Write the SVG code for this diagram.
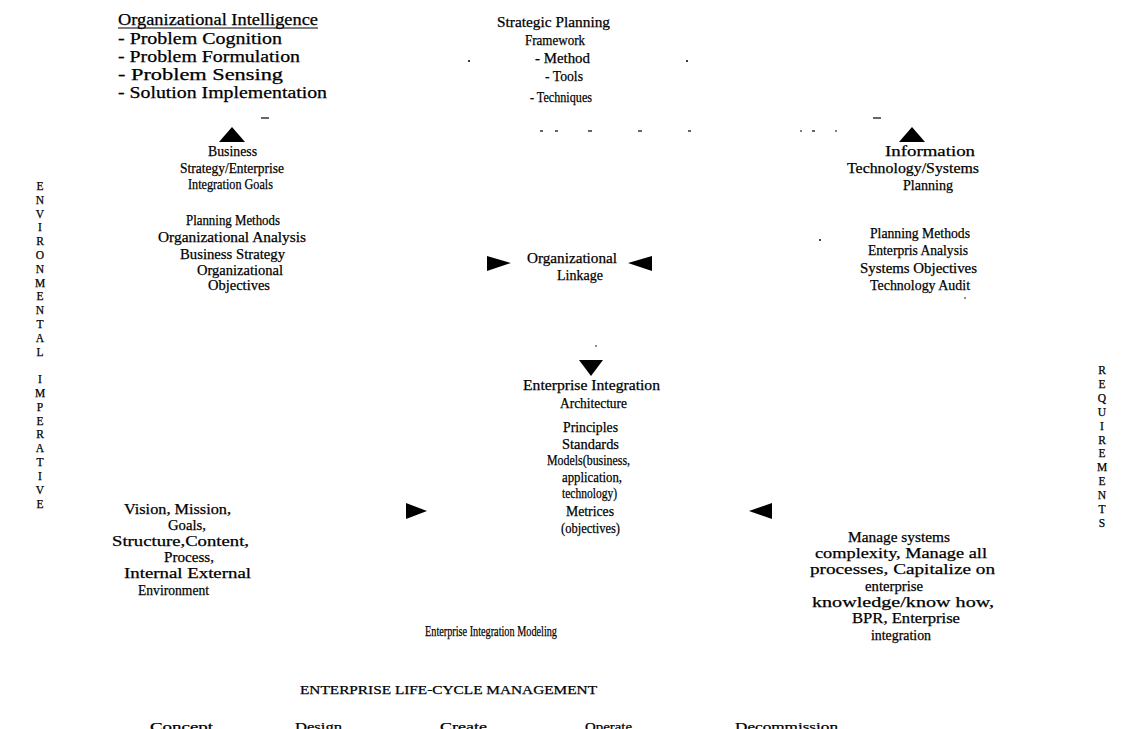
<svg xmlns="http://www.w3.org/2000/svg" width="1147" height="729" viewBox="0 0 1147 729">
  <style>
    text { font-family: "Liberation Serif", "Times New Roman", serif; fill: #000; stroke: #000; stroke-width: 0.25; }
    .t { font-size: 15.5px; }
    .big { font-size: 16.5px; }
    .vert { font-size: 11.5px; text-anchor: middle; }
    .low { font-size: 13.5px; }
    .tri { fill: #000; }
    .speck { stroke: #000; stroke-width: 1.2; fill: none; }
  </style>

  <rect width="1147" height="729" fill="#fff"/>

  <!-- side captions -->
  <g id="environmental-imperative">
    <text class="vert" x="40" y="190">E</text>
    <text class="vert" x="40" y="204">N</text>
    <text class="vert" x="40" y="218">V</text>
    <text class="vert" x="40" y="231">I</text>
    <text class="vert" x="40" y="245">R</text>
    <text class="vert" x="40" y="259">O</text>
    <text class="vert" x="40" y="273">N</text>
    <text class="vert" x="40" y="287">M</text>
    <text class="vert" x="40" y="300">E</text>
    <text class="vert" x="40" y="314">N</text>
    <text class="vert" x="40" y="328">T</text>
    <text class="vert" x="40" y="342">A</text>
    <text class="vert" x="40" y="356">L</text>
    <text class="vert" x="40" y="383">I</text>
    <text class="vert" x="40" y="397">M</text>
    <text class="vert" x="40" y="411">P</text>
    <text class="vert" x="40" y="425">E</text>
    <text class="vert" x="40" y="438">R</text>
    <text class="vert" x="40" y="452">A</text>
    <text class="vert" x="40" y="466">T</text>
    <text class="vert" x="40" y="480">I</text>
    <text class="vert" x="40" y="494">V</text>
    <text class="vert" x="40" y="508">E</text>
  </g>
  <g id="requirements">
    <text class="vert" x="1102" y="374">R</text>
    <text class="vert" x="1102" y="388">E</text>
    <text class="vert" x="1102" y="402">Q</text>
    <text class="vert" x="1102" y="416">U</text>
    <text class="vert" x="1102" y="430">I</text>
    <text class="vert" x="1102" y="444">R</text>
    <text class="vert" x="1102" y="457">E</text>
    <text class="vert" x="1102" y="471">M</text>
    <text class="vert" x="1102" y="485">E</text>
    <text class="vert" x="1102" y="499">N</text>
    <text class="vert" x="1102" y="513">T</text>
    <text class="vert" x="1102" y="527">S</text>
  </g>

  <!-- organizational intelligence -->
  <g id="org-intelligence">
    <text class="big" x="118" y="25" textLength="200" lengthAdjust="spacingAndGlyphs">Organizational Intelligence</text>
    <line x1="118" y1="28" x2="318" y2="28" stroke="#000" stroke-width="1"/>
    <text class="big" x="118" y="44" textLength="164" lengthAdjust="spacingAndGlyphs">- Problem Cognition</text>
    <text class="big" x="118" y="62" textLength="182" lengthAdjust="spacingAndGlyphs">- Problem Formulation</text>
    <text class="big" x="118" y="80" textLength="165" lengthAdjust="spacingAndGlyphs">- Problem Sensing</text>
    <text class="big" x="118" y="98" textLength="209" lengthAdjust="spacingAndGlyphs">- Solution Implementation</text>
  </g>

  <!-- strategic planning framework -->
  <g id="strategic-planning">
    <text class="t" x="497" y="27" textLength="113" lengthAdjust="spacingAndGlyphs">Strategic Planning</text>
    <text class="t" x="525" y="45" textLength="60" lengthAdjust="spacingAndGlyphs">Framework</text>
    <text class="t" x="535" y="63" textLength="55" lengthAdjust="spacingAndGlyphs">- Method</text>
    <text class="t" x="545" y="81" textLength="38" lengthAdjust="spacingAndGlyphs">- Tools</text>
    <text class="t" x="530" y="102" textLength="62" lengthAdjust="spacingAndGlyphs">- Techniques</text>
  </g>

  <!-- business strategy -->
  <g id="business-strategy">
    <text class="t" x="208" y="156" textLength="49" lengthAdjust="spacingAndGlyphs">Business</text>
    <text class="t" x="180" y="173" textLength="104" lengthAdjust="spacingAndGlyphs">Strategy/Enterprise</text>
    <text class="t" x="188" y="189" textLength="85" lengthAdjust="spacingAndGlyphs">Integration Goals</text>
    <text class="t" x="186" y="225" textLength="94" lengthAdjust="spacingAndGlyphs">Planning Methods</text>
    <text class="t" x="158" y="242" textLength="148" lengthAdjust="spacingAndGlyphs">Organizational Analysis</text>
    <text class="t" x="180" y="259" textLength="105" lengthAdjust="spacingAndGlyphs">Business Strategy</text>
    <text class="t" x="197" y="275" textLength="86" lengthAdjust="spacingAndGlyphs">Organizational</text>
    <text class="t" x="208" y="290" textLength="62" lengthAdjust="spacingAndGlyphs">Objectives</text>
  </g>

  <!-- information technology planning -->
  <g id="it-planning">
    <text class="t" x="885" y="156" textLength="90" lengthAdjust="spacingAndGlyphs">Information</text>
    <text class="t" x="847" y="173" textLength="132" lengthAdjust="spacingAndGlyphs">Technology/Systems</text>
    <text class="t" x="903" y="190" textLength="50" lengthAdjust="spacingAndGlyphs">Planning</text>
    <text class="t" x="870" y="238" textLength="100" lengthAdjust="spacingAndGlyphs">Planning Methods</text>
    <text class="t" x="868" y="255" textLength="100" lengthAdjust="spacingAndGlyphs">Enterpris Analysis</text>
    <text class="t" x="860" y="273" textLength="117" lengthAdjust="spacingAndGlyphs">Systems Objectives</text>
    <text class="t" x="870" y="290" textLength="100" lengthAdjust="spacingAndGlyphs">Technology Audit</text>
  </g>

  <!-- organizational linkage -->
  <g id="org-linkage">
    <text class="t" x="527" y="263" textLength="90" lengthAdjust="spacingAndGlyphs">Organizational</text>
    <text class="t" x="557" y="280" textLength="46" lengthAdjust="spacingAndGlyphs">Linkage</text>
  </g>

  <!-- enterprise integration architecture -->
  <g id="ei-architecture">
    <text class="t" x="523" y="390" textLength="137" lengthAdjust="spacingAndGlyphs">Enterprise Integration</text>
    <text class="t" x="560" y="408" textLength="67" lengthAdjust="spacingAndGlyphs">Architecture</text>
    <text class="t" x="563" y="432" textLength="55" lengthAdjust="spacingAndGlyphs">Principles</text>
    <text class="t" x="562" y="449" textLength="57" lengthAdjust="spacingAndGlyphs">Standards</text>
    <text class="t" x="547" y="465" textLength="83" lengthAdjust="spacingAndGlyphs">Models(business,</text>
    <text class="t" x="562" y="482" textLength="60" lengthAdjust="spacingAndGlyphs">application,</text>
    <text class="t" x="562" y="498" textLength="55" lengthAdjust="spacingAndGlyphs">technology)</text>
    <text class="t" x="566" y="516" textLength="48" lengthAdjust="spacingAndGlyphs">Metrices</text>
    <text class="t" x="561" y="533" textLength="59" lengthAdjust="spacingAndGlyphs">(objectives)</text>
  </g>

  <!-- vision and mission -->
  <g id="vision-mission">
    <text class="t" x="124" y="514" textLength="107" lengthAdjust="spacingAndGlyphs">Vision, Mission,</text>
    <text class="t" x="168" y="530" textLength="38" lengthAdjust="spacingAndGlyphs">Goals,</text>
    <text class="t" x="112" y="546" textLength="137" lengthAdjust="spacingAndGlyphs">Structure,Content,</text>
    <text class="t" x="164" y="562" textLength="50" lengthAdjust="spacingAndGlyphs">Process,</text>
    <text class="t" x="124" y="578" textLength="127" lengthAdjust="spacingAndGlyphs">Internal External</text>
    <text class="t" x="138" y="595" textLength="71" lengthAdjust="spacingAndGlyphs">Environment</text>
  </g>

  <!-- management goals -->
  <g id="manage-goals">
    <text class="t" x="848" y="542" textLength="102" lengthAdjust="spacingAndGlyphs">Manage systems</text>
    <text class="t" x="815" y="558" textLength="172" lengthAdjust="spacingAndGlyphs">complexity, Manage all</text>
    <text class="t" x="810" y="574" textLength="185" lengthAdjust="spacingAndGlyphs">processes, Capitalize on</text>
    <text class="t" x="865" y="591" textLength="58" lengthAdjust="spacingAndGlyphs">enterprise</text>
    <text class="t" x="812" y="607" textLength="182" lengthAdjust="spacingAndGlyphs">knowledge/know how,</text>
    <text class="t" x="852" y="623" textLength="108" lengthAdjust="spacingAndGlyphs">BPR, Enterprise</text>
    <text class="t" x="871" y="640" textLength="60" lengthAdjust="spacingAndGlyphs">integration</text>
  </g>

  <!-- modeling and life-cycle -->
  <g id="ei-modeling">
    <text class="t" x="425" y="636" textLength="132" lengthAdjust="spacingAndGlyphs">Enterprise Integration Modeling</text>
  </g>
  <g id="life-cycle">
    <text class="low" x="300" y="694" textLength="297" lengthAdjust="spacingAndGlyphs">ENTERPRISE LIFE-CYCLE MANAGEMENT</text>
    <text class="low" x="150" y="731" textLength="63" lengthAdjust="spacingAndGlyphs">Concept</text>
    <text class="low" x="295" y="731" textLength="47" lengthAdjust="spacingAndGlyphs">Design</text>
    <text class="low" x="440" y="731" textLength="47" lengthAdjust="spacingAndGlyphs">Create</text>
    <text class="low" x="585" y="731" textLength="47" lengthAdjust="spacingAndGlyphs">Operate</text>
    <text class="low" x="735" y="731" textLength="103" lengthAdjust="spacingAndGlyphs">Decommission</text>
  </g>

  <!-- arrowheads linking the blocks -->
  <g id="connectors">
    <polygon class="tri" points="232,127 245,142 219,142"/>
    <polygon class="tri" points="912,127 925,142 899,142"/>
    <polygon class="tri" points="511,263 487,256 487,271"/>
    <polygon class="tri" points="628,263 652,256 652,271"/>
    <polygon class="tri" points="591,376 579,360 603,360"/>
    <polygon class="tri" points="427,511 406,503 406,519"/>
    <polygon class="tri" points="749,511 772,503 772,519"/>
  </g>

  <!-- faint scan specks -->
  <g id="specks">
    <circle cx="469" cy="61" r="1" fill="#000"/>
    <circle cx="687" cy="61" r="1" fill="#000"/>
    <line class="speck" x1="261" y1="118" x2="269" y2="118"/>
    <line class="speck" x1="540" y1="131" x2="543" y2="131"/>
    <line class="speck" x1="555" y1="131" x2="558" y2="131"/>
    <line class="speck" x1="588" y1="131" x2="592" y2="131"/>
    <line class="speck" x1="638" y1="131" x2="642" y2="131"/>
    <line class="speck" x1="688" y1="131" x2="691" y2="131"/>
    <line class="speck" x1="873" y1="118" x2="881" y2="118"/>
    <line class="speck" x1="800" y1="131" x2="802" y2="131"/>
    <line class="speck" x1="812" y1="131" x2="815" y2="131"/>
    <line class="speck" x1="835" y1="131" x2="837" y2="131"/>
    <circle cx="820" cy="240" r="1" fill="#000"/>
    <circle cx="965" cy="298" r="0.8" fill="#000"/>
    <circle cx="596" cy="346" r="0.8" fill="#000"/>
  </g>
</svg>
